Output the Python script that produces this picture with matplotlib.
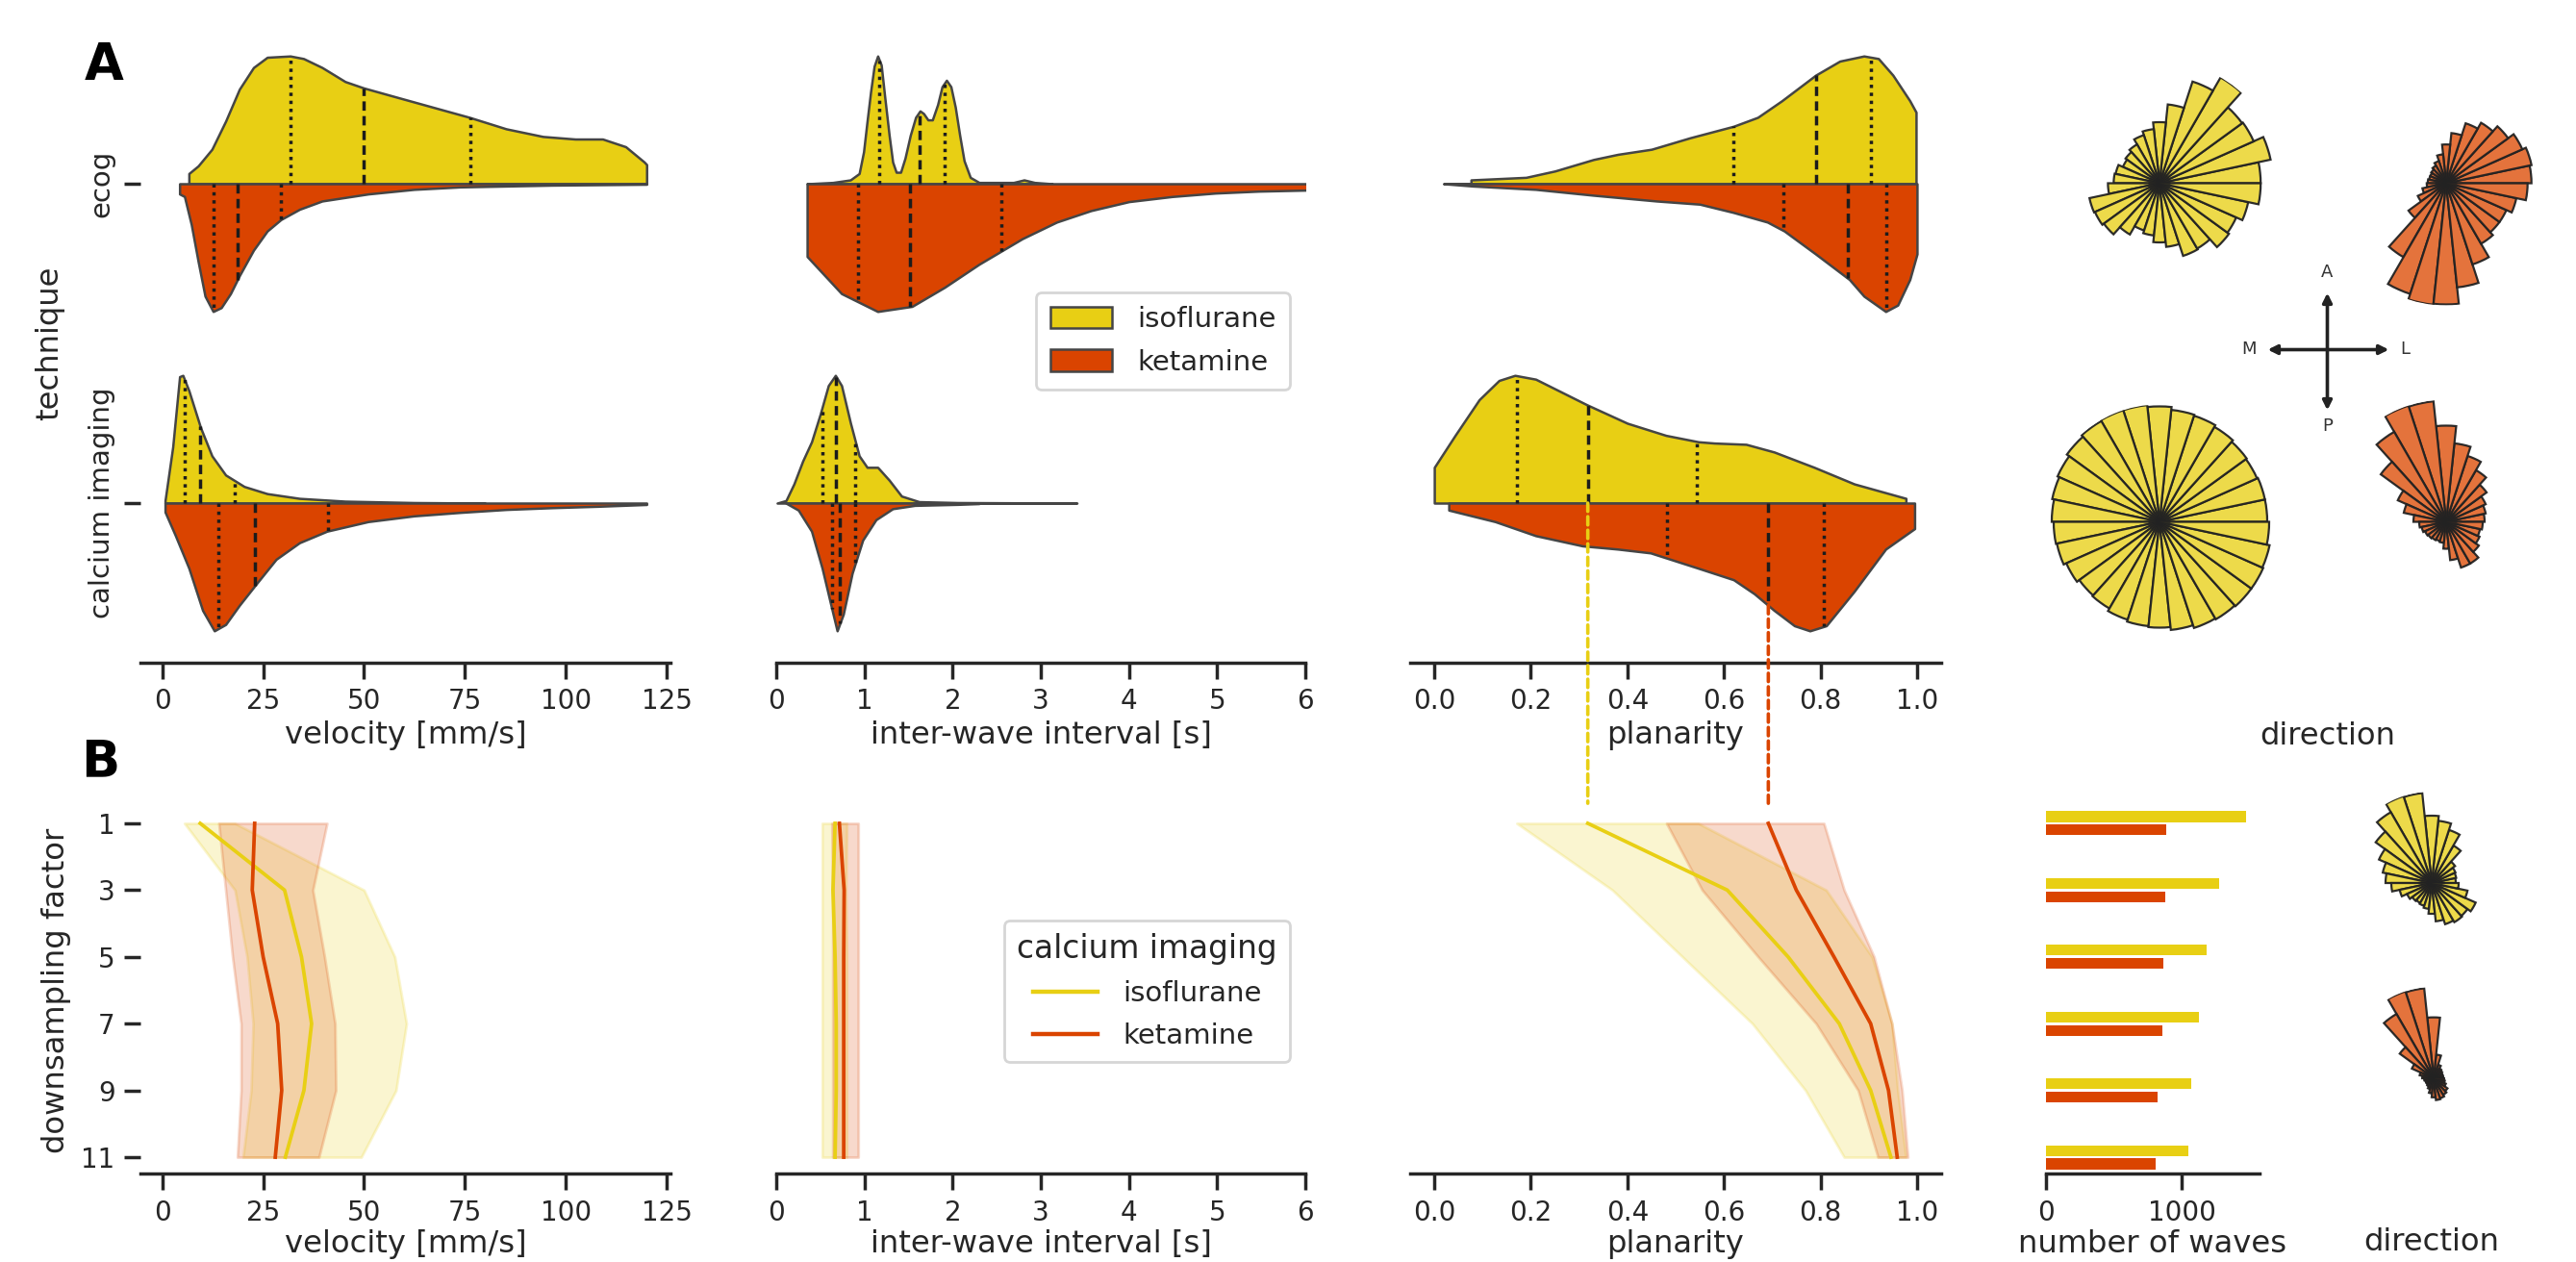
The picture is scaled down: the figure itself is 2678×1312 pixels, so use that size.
import numpy as np
import matplotlib
matplotlib.use('Agg')
import matplotlib.pyplot as plt
from matplotlib.patches import Patch, ConnectionPatch
from matplotlib.lines import Line2D

# ---------------- data ----------------
techniques = ['ecog', 'calcium imaging']
drugs = ['isoflurane', 'ketamine']

# violin half-profiles: x positions and relative density (max = 1)
vel_ecog_iso_x = [6.6, 8.9, 12.3, 15.7, 19.1, 22.6, 26.0, 31.7, 35.0, 39.6, 45.3, 49.9, 56.7, 68.1, 76.1, 85.2, 94.3, 102.3, 109.1, 114.8, 119.4, 120.0]
vel_ecog_iso_h = [0.08, 0.14, 0.27, 0.49, 0.74, 0.91, 0.99, 1.0, 0.98, 0.91, 0.80, 0.75, 0.69, 0.59, 0.52, 0.43, 0.37, 0.35, 0.35, 0.29, 0.17, 0.15]
vel_ecog_iso_q = [31.7, 50.0, 76.3]
vel_ecog_ket_x = [4.3, 5.5, 7.2, 8.9, 10.6, 12.6, 14.6, 16.9, 19.1, 22.6, 26.0, 29.4, 34.0, 39.6, 51.0, 62.4, 73.8, 96.6, 120.0]
vel_ecog_ket_h = [0.08, 0.10, 0.32, 0.61, 0.88, 1.0, 0.97, 0.86, 0.72, 0.52, 0.37, 0.28, 0.20, 0.135, 0.08, 0.044, 0.025, 0.011, 0.004]
vel_ecog_ket_q = [12.6, 18.6, 29.4]
vel_ca_iso_x = [0.7, 2.6, 4.3, 5.1, 6.6, 9.5, 12.3, 15.7, 20.3, 26.0, 34.0, 45.3, 62.4, 80.0]
vel_ca_iso_h = [0.02, 0.44, 0.99, 1.0, 0.88, 0.59, 0.37, 0.22, 0.13, 0.074, 0.037, 0.015, 0.004, 0.0]
vel_ca_iso_q = [5.5, 9.4, 18.0]
vel_ca_ket_x = [0.7, 3.2, 6.6, 10.0, 12.9, 15.7, 19.1, 23.1, 28.2, 34.0, 40.8, 51.0, 62.4, 73.8, 85.2, 96.6, 108.0, 120.0]
vel_ca_ket_h = [0.07, 0.25, 0.51, 0.84, 1.0, 0.95, 0.80, 0.64, 0.44, 0.31, 0.22, 0.145, 0.10, 0.073, 0.05, 0.036, 0.025, 0.011]
vel_ca_ket_q = [13.8, 22.9, 41.0]

iwi_ecog_iso_x = [0.35, 0.64, 0.84, 0.94, 0.99, 1.03, 1.07, 1.11, 1.15, 1.19, 1.23, 1.28, 1.32, 1.36, 1.41, 1.46, 1.52, 1.58, 1.63, 1.67, 1.72, 1.77, 1.83, 1.88, 1.93, 1.98, 2.03, 2.08, 2.13, 2.2, 2.3, 2.69, 2.81, 2.93, 3.13]
iwi_ecog_iso_h = [0.0, 0.01, 0.03, 0.08, 0.25, 0.49, 0.72, 0.92, 1.0, 0.93, 0.68, 0.38, 0.17, 0.09, 0.09, 0.2, 0.38, 0.52, 0.57, 0.55, 0.5, 0.5, 0.62, 0.76, 0.81, 0.76, 0.6, 0.38, 0.18, 0.05, 0.01, 0.01, 0.03, 0.01, 0.0]
iwi_ecog_iso_q = [1.17, 1.63, 1.91]
iwi_ecog_ket_x = [0.35, 0.74, 1.15, 1.54, 1.91, 2.3, 2.79, 3.18, 3.57, 4.0, 4.49, 4.98, 5.47, 6.0, 6.3]
iwi_ecog_ket_h = [0.57, 0.86, 1.0, 0.96, 0.81, 0.63, 0.43, 0.30, 0.21, 0.14, 0.10, 0.073, 0.058, 0.05, 0.045]
iwi_ecog_ket_q = [0.93, 1.52, 2.55]
iwi_ca_iso_x = [0.01, 0.11, 0.2, 0.3, 0.4, 0.5, 0.59, 0.67, 0.74, 0.84, 0.94, 1.03, 1.15, 1.28, 1.42, 1.62, 2.06, 3.41]
iwi_ca_iso_h = [0.0, 0.02, 0.15, 0.33, 0.48, 0.70, 0.92, 1.0, 0.92, 0.63, 0.37, 0.28, 0.28, 0.18, 0.055, 0.011, 0.004, 0.0]
iwi_ca_iso_q = [0.52, 0.68, 0.89]
iwi_ca_ket_x = [0.11, 0.25, 0.4, 0.52, 0.62, 0.69, 0.76, 0.86, 0.98, 1.13, 1.32, 1.57, 2.06, 2.3]
iwi_ca_ket_h = [0.0, 0.055, 0.22, 0.51, 0.8, 1.0, 0.87, 0.55, 0.29, 0.13, 0.044, 0.018, 0.01, 0.004]
iwi_ca_ket_q = [0.63, 0.72, 0.89]

plan_ecog_iso_x = [0.02, 0.076, 0.076, 0.19, 0.25, 0.33, 0.38, 0.45, 0.53, 0.62, 0.67, 0.72, 0.79, 0.84, 0.89, 0.92, 0.95, 0.985, 0.998]
plan_ecog_iso_h = [0.0, 0.0, 0.03, 0.05, 0.10, 0.19, 0.23, 0.27, 0.36, 0.45, 0.52, 0.65, 0.85, 0.96, 1.0, 0.98, 0.85, 0.65, 0.56]
plan_ecog_iso_q = [0.62, 0.79, 0.905]
plan_ecog_ket_x = [0.02, 0.08, 0.21, 0.33, 0.46, 0.55, 0.62, 0.69, 0.725, 0.79, 0.86, 0.89, 0.935, 0.96, 0.985, 1.0]
plan_ecog_ket_h = [0.0, 0.018, 0.044, 0.09, 0.135, 0.16, 0.225, 0.30, 0.37, 0.55, 0.75, 0.88, 1.0, 0.95, 0.75, 0.55]
plan_ecog_ket_q = [0.723, 0.857, 0.936]
plan_ca_iso_x = [0.0, 0.043, 0.093, 0.134, 0.167, 0.21, 0.316, 0.40, 0.48, 0.547, 0.58, 0.646, 0.704, 0.787, 0.87, 0.977]
plan_ca_iso_h = [0.28, 0.53, 0.81, 0.96, 1.0, 0.97, 0.77, 0.625, 0.53, 0.48, 0.47, 0.46, 0.40, 0.28, 0.15, 0.037]
plan_ca_iso_q = [0.171, 0.318, 0.543]
plan_ca_ket_x = [0.03, 0.126, 0.21, 0.307, 0.38, 0.448, 0.547, 0.62, 0.663, 0.704, 0.746, 0.778, 0.812, 0.87, 0.935, 0.995]
plan_ca_ket_h = [0.055, 0.145, 0.255, 0.335, 0.36, 0.39, 0.51, 0.60, 0.71, 0.84, 0.96, 1.0, 0.96, 0.69, 0.36, 0.2]
plan_ca_ket_q = [0.483, 0.692, 0.806]

# direction histograms (30 bins of 12 deg, bin centres from 6 deg, counter-clockwise from L)
rose_bin_deg = np.arange(6, 360, 12)
rose_ecog_iso = [106, 119, 108, 107, 128, 112, 83, 64, 57, 53, 47, 44, 42, 47, 48, 54, 75, 74, 72, 62, 52, 55, 62, 67, 80, 79, 90, 88, 95, 106]
rose_ecog_ket = [88, 90, 86, 79, 72, 65, 52, 40, 30, 24, 21, 19, 18, 18, 19, 20, 25, 32, 48, 88, 120, 126, 125, 108, 88, 72, 68, 68, 74, 84]
rose_ca_iso = [112, 112, 111, 112, 114, 116, 117, 120, 122, 122, 121, 119, 116, 114, 112, 110, 109, 106, 103, 104, 107, 109, 110, 113, 116, 117, 118, 118, 117, 114]
rose_ca_ket = [40, 42, 45, 52, 62, 72, 82, 100, 126, 127, 108, 84, 55, 45, 34, 28, 26, 24, 23, 22, 21, 22, 28, 40, 50, 50, 42, 38, 36, 38]
rose_ds_iso = [25, 26, 27, 30, 45, 58, 65, 70, 94, 95, 85, 72, 60, 52, 48, 42, 34, 28, 25, 24, 25, 27, 32, 40, 45, 47, 46, 50, 38, 28]
rose_ds_ket = [10, 10, 10, 11, 12, 15, 25, 64, 95, 96, 78, 44, 25, 15, 12, 10, 9, 9, 9, 10, 12, 16, 20, 23, 22, 20, 18, 14, 12, 11]

# panel B: downsampling
factors = [1, 3, 5, 7, 9, 11]
vel_iso_mean = [9.4, 30.3, 34.5, 37.0, 35.1, 30.5]
vel_iso_lo = [5.5, 18.0, 21.0, 22.5, 22.0, 20.0]
vel_iso_hi = [18.0, 50.0, 57.6, 60.5, 57.9, 49.3]
vel_ket_mean = [22.9, 22.3, 25.0, 28.6, 29.6, 28.0]
vel_ket_lo = [14.0, 15.7, 17.4, 19.5, 19.5, 18.6]
vel_ket_hi = [40.8, 37.3, 40.2, 42.8, 43.0, 38.8]
iwi_iso_mean = [0.667, 0.643, 0.667, 0.680, 0.680, 0.667]
iwi_iso_lo = [0.52, 0.52, 0.52, 0.52, 0.52, 0.52]
iwi_iso_hi = [0.80, 0.79, 0.80, 0.80, 0.80, 0.80]
iwi_ket_mean = [0.716, 0.770, 0.765, 0.765, 0.765, 0.765]
iwi_ket_lo = [0.63, 0.64, 0.64, 0.64, 0.64, 0.64]
iwi_ket_hi = [0.93, 0.93, 0.93, 0.93, 0.93, 0.93]
plan_iso_mean = [0.318, 0.607, 0.733, 0.839, 0.904, 0.946]
plan_iso_lo = [0.171, 0.369, 0.514, 0.659, 0.769, 0.849]
plan_iso_hi = [0.547, 0.812, 0.907, 0.948, 0.960, 0.977]
plan_ket_mean = [0.692, 0.750, 0.828, 0.904, 0.941, 0.959]
plan_ket_lo = [0.481, 0.555, 0.671, 0.791, 0.878, 0.919]
plan_ket_hi = [0.807, 0.849, 0.911, 0.948, 0.969, 0.981]
n_waves_iso = [1478, 1273, 1186, 1124, 1073, 1049]
n_waves_ket = [889, 878, 862, 857, 824, 805]

# ---------------- style ----------------
YEL = '#E8CF14'
RED = '#DA4400'
ROSE_YEL = '#ECD840'
ROSE_RED = '#E36B31'
DARK = '#262626'
plt.rcParams.update({
    'font.family': ['DejaVu Sans'],
    'text.color': DARK, 'axes.labelcolor': DARK,
    'axes.edgecolor': DARK, 'xtick.color': DARK, 'ytick.color': DARK,
    'axes.linewidth': 1.25, 'xtick.major.width': 1.25, 'ytick.major.width': 1.25,
    'xtick.major.size': 6, 'ytick.major.size': 6,
    'xtick.labelsize': 10.0, 'ytick.labelsize': 10.0, 'axes.labelsize': 11.6,
    'axes.labelpad': 2.0,
})

W, H = 2678, 1312
DPI = 200
fig = plt.figure(figsize=(W / DPI, H / DPI), dpi=DPI)


def px_axes(x0, y0, x1, y1, **kw):
    return fig.add_axes([x0 / W, 1 - y1 / H, (x1 - x0) / W, (y1 - y0) / H], **kw)


def clean(ax):
    for s in ['top', 'right', 'left']:
        ax.spines[s].set_visible(False)


def half_violin(ax, x, h, base, sign, color, q):
    x = np.asarray(x, float)
    h = np.asarray(h, float)
    ax.fill_between(x, base, base + sign * 0.4 * h, facecolor=color,
                    edgecolor='#454545', lw=0.9, zorder=2)
    for i, qq in enumerate(q):
        hh = np.interp(qq, x, h)
        ls = (0, (2.8, 1.6)) if i == 1 else (0, (1.0, 1.4))
        ax.plot([qq, qq], [base, base + sign * 0.4 * hh], color='#1c1c1c',
                lw=1.25, ls=ls, zorder=3, solid_capstyle='butt')


cols = [(146, 697.4), (807, 1357), (1466, 2018)]
xlims = [(-5.4, 126), (0, 6), (-0.05, 1.05)]
xticks = [[0, 25, 50, 75, 100, 125], [0, 1, 2, 3, 4, 5, 6], [0.0, 0.2, 0.4, 0.6, 0.8, 1.0]]
xtl = [None, None, ['0.0', '0.2', '0.4', '0.6', '0.8', '1.0']]
xlabels = ['velocity [mm/s]', 'inter-wave interval [s]', 'planarity']

violins = [
    [(vel_ecog_iso_x, vel_ecog_iso_h, vel_ecog_iso_q, vel_ecog_ket_x, vel_ecog_ket_h, vel_ecog_ket_q),
     (vel_ca_iso_x, vel_ca_iso_h, vel_ca_iso_q, vel_ca_ket_x, vel_ca_ket_h, vel_ca_ket_q)],
    [(iwi_ecog_iso_x, iwi_ecog_iso_h, iwi_ecog_iso_q, iwi_ecog_ket_x, iwi_ecog_ket_h, iwi_ecog_ket_q),
     (iwi_ca_iso_x, iwi_ca_iso_h, iwi_ca_iso_q, iwi_ca_ket_x, iwi_ca_ket_h, iwi_ca_ket_q)],
    [(plan_ecog_iso_x, plan_ecog_iso_h, plan_ecog_iso_q, plan_ecog_ket_x, plan_ecog_ket_h, plan_ecog_ket_q),
     (plan_ca_iso_x, plan_ca_iso_h, plan_ca_iso_q, plan_ca_ket_x, plan_ca_ket_h, plan_ca_ket_q)],
]

axA = []
for c in range(3):
    ax = px_axes(cols[c][0], 25, cols[c][1], 689)
    for t in range(2):
        ix, ih, iq, kx, kh, kq = violins[c][t]
        half_violin(ax, ix, ih, t, -1, YEL, iq)
        half_violin(ax, kx, kh, t, +1, RED, kq)
    ax.set_xlim(*xlims[c])
    ax.set_ylim(1.5, -0.5)
    ax.set_xticks(xticks[c])
    if xtl[c]:
        ax.set_xticklabels(xtl[c])
    ax.set_xlabel(xlabels[c])
    clean(ax)
    if c == 0:
        ax.set_yticks([0, 1])
        ax.set_yticklabels(techniques, rotation=90, va='center', fontsize=10.5)
    else:
        ax.set_yticks([])
    axA.append(ax)

axA[1].legend(handles=[Patch(facecolor=YEL, edgecolor='#454545', lw=0.9),
                       Patch(facecolor=RED, edgecolor='#454545', lw=0.9)],
              labels=drugs, loc='upper right', bbox_to_anchor=(0.971, 0.58),
              borderaxespad=0, fontsize=10.5, handlelength=2.2, handleheight=0.8,
              borderpad=0.5, labelspacing=0.55, handletextpad=0.9)

# direction roses (panel A)
def rose(cx, cy, r, values, color):
    ax = px_axes(cx - r, cy - r, cx + r, cy + r, projection='polar')
    ax.bar(np.deg2rad(rose_bin_deg), values, width=np.deg2rad(12), bottom=0,
           color=color, edgecolor='#222222', lw=0.8, alpha=0.95)
    ax.set_ylim(0, max(values))
    ax.set_axis_off()
    return ax

rose(2245, 190.5, 127, rose_ecog_iso, ROSE_YEL)
rose(2543, 190.5, 127, rose_ecog_ket, ROSE_RED)
rose(2245, 542.5, 122, rose_ca_iso, ROSE_YEL)
rose(2543, 542.5, 127, rose_ca_ket, ROSE_RED)

# compass
axc = px_axes(2419.5 - 100, 363.5 - 100, 2419.5 + 100, 363.5 + 100)
axc.set_xlim(-100, 100)
axc.set_ylim(-100, 100)
axc.set_axis_off()
ap = dict(arrowstyle='<|-|>', lw=1.3, color='#222222', mutation_scale=7, shrinkA=0, shrinkB=0)
axc.annotate('', xy=(-62, 0), xytext=(64, 0), arrowprops=ap)
axc.annotate('', xy=(0, 59), xytext=(0, -63), arrowprops=ap)
for lab, (tx, ty) in {'A': (0, 81), 'P': (0, -80), 'M': (-81, 1), 'L': (81, 1)}.items():
    axc.text(tx, ty, lab, ha='center', va='center', fontsize=6.5, color='#333333')

fig.text(2419.5 / W, 1 - 765 / H, 'direction', ha='center', va='center', fontsize=11.6)

# ---------------- panel B ----------------
lines_B = [
    (vel_iso_mean, vel_iso_lo, vel_iso_hi, vel_ket_mean, vel_ket_lo, vel_ket_hi),
    (iwi_iso_mean, iwi_iso_lo, iwi_iso_hi, iwi_ket_mean, iwi_ket_lo, iwi_ket_hi),
    (plan_iso_mean, plan_iso_lo, plan_iso_hi, plan_ket_mean, plan_ket_lo, plan_ket_hi),
]
axB = []
for c in range(3):
    ax = px_axes(cols[c][0], 838.6, cols[c][1], 1220.4)
    im, ilo, ihi, km, klo, khi = lines_B[c]
    ax.fill_betweenx(factors, ilo, ihi, color=YEL, alpha=0.2, lw=1)
    ax.fill_betweenx(factors, klo, khi, color=RED, alpha=0.2, lw=1)
    ax.plot(im, factors, color=YEL, lw=1.35, label=drugs[0])
    ax.plot(km, factors, color=RED, lw=1.35, label=drugs[1])
    ax.set_xlim(*xlims[c])
    ax.set_ylim(11.5, 0.5)
    ax.set_xticks(xticks[c])
    if xtl[c]:
        ax.set_xticklabels(xtl[c])
    ax.set_xlabel(xlabels[c], labelpad=1.0)
    clean(ax)
    if c == 0:
        ax.set_yticks(factors)
    else:
        ax.set_yticks([])
    axB.append(ax)

axB[1].legend(handles=[Line2D([], [], color=YEL, lw=1.6), Line2D([], [], color=RED, lw=1.6)],
              labels=drugs, title='calcium imaging', loc='upper right',
              bbox_to_anchor=(0.971, 0.69), borderaxespad=0, fontsize=10.5,
              title_fontsize=11.8, handlelength=2.3, handletextpad=0.9,
              borderpad=0.45, labelspacing=0.55)

# number of waves
axN = px_axes(2127, 838.6, 2349, 1220.4)
fy = np.asarray(factors, float)
axN.barh(fy - 0.2, n_waves_iso, height=0.32, color=YEL, lw=0)
axN.barh(fy + 0.2, n_waves_ket, height=0.32, color=RED, lw=0)
axN.set_xlim(0, 1574)
axN.set_ylim(11.5, 0.5)
axN.set_xticks([0, 1000])
axN.set_yticks([])
axN.set_xlabel('number of waves', labelpad=1.0)
clean(axN)

rose(2528, 918, 95, rose_ds_iso, ROSE_YEL)
rose(2530, 1121, 95, rose_ds_ket, ROSE_RED)
fig.text(2528 / W, 1 - 1292 / H, 'direction', ha='center', va='center', fontsize=11.6)

# y labels
fig.text(52 / W, 1 - 357 / H, 'technique', rotation=90, ha='center', va='center', fontsize=11.6)
fig.text(59 / W, 1 - 1029.5 / H, 'downsampling factor', rotation=90, ha='center', va='center', fontsize=11.6)

# panel letters
fig.text(108 / W, 1 - 68 / H, 'A', ha='center', va='center', fontsize=19, fontweight='bold', color='black')
fig.text(104 / W, 1 - 792 / H, 'B', ha='center', va='center', fontsize=19, fontweight='bold', color='black')

# connectors between calcium-imaging planarity medians and panel B
med_iso = plan_ca_iso_q[1]
med_ket = plan_ca_ket_q[1]
y_ket = 1 + 0.4 * np.interp(med_ket, plan_ca_ket_x, plan_ca_ket_h)
for xm, y0, col in [(med_iso, 1.0, YEL), (med_ket, y_ket, RED)]:
    cp = ConnectionPatch(xyA=(xm, y0), coordsA=axA[2].transData,
                         xyB=(xm, 0.4), coordsB=axB[2].transData,
                         color=col, lw=1.3, ls=(0, (2.4, 1.5)))
    fig.add_artist(cp)

fig.savefig('out.png', dpi=DPI)
